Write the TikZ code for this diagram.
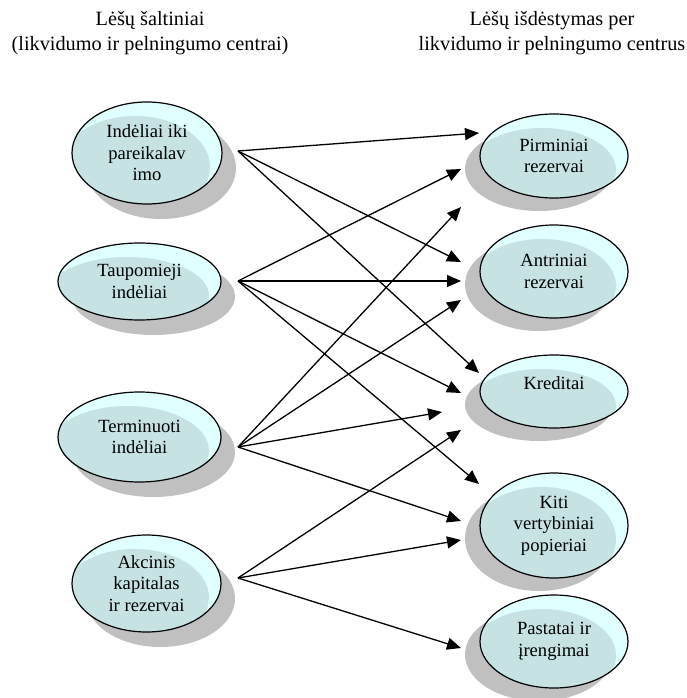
\documentclass[tikz,border=0pt]{standalone}
\usepackage{fontspec}
\setmainfont{Liberation Serif}
\usetikzlibrary{shapes.geometric,arrows.meta,calc}

\definecolor{capfill}{RGB}{224,255,255}
\definecolor{capshade}{RGB}{198,226,227}
\definecolor{capshadow}{RGB}{192,192,192}

\tikzset{
  fund/.style={
    ellipse, draw=black, line width=1.2pt, fill=capfill,
    inner sep=0pt, align=center,
    font=\fontsize{18.6}{21.5}\selectfont,
    % darker lower-left body of the two-tone fill
    path picture={
      \fill[capshade]
        let \p1=(path picture bounding box.south west),
            \p2=(path picture bounding box.north east)
        in (\x1/2+\x2/2-12pt, \y1/2+\y2/2-14pt)
           ellipse [x radius={(\x2-\x1)/2}, y radius={(\y2-\y1)/2}];
    }
  },
  srcbox/.style={fund,
    preaction={fill=capshadow, transform canvas={shift={(14pt,-15pt)}}}},
  usebox/.style={fund,
    preaction={fill=capshadow, transform canvas={shift={(-15pt,-13pt)}}}},
  header/.style={align=center, font=\fontsize{20.3}{24.5}\selectfont},
  flow/.style={line width=1.3pt, -{Triangle[length=14pt,width=12pt]}}
}

\begin{document}
\begin{tikzpicture}[x=1pt, y=-1pt]
  \useasboundingbox (0,0) rectangle (686,698);

  % column headings
  \node[header] (hsrc) at (150,33) {Lėšų šaltiniai\\(likvidumo ir pelningumo centrai)};
  \node[header] (huse) at (552,33) {Lėšų išdėstymas per\\likvidumo ir pelningumo centrus};

  % sources of funds
  \node[srcbox, minimum width=150pt, minimum height=102pt] (L1) at (147,153)
    {Indėliai iki\\pareikalav\\imo};
  \node[srcbox, minimum width=163pt, minimum height=77pt] (L2) at (139.5,281.5)
    {Taupomieji\\indėliai};
  \node[srcbox, minimum width=163pt, minimum height=90pt] (L3) at (139.5,437)
    {Terminuoti\\indėliai};
  \node[srcbox, minimum width=149pt, minimum height=97pt] (L4) at (146.5,583.5)
    {Akcinis\\kapitalas\\ir rezervai};

  % uses of funds
  \node[usebox, minimum width=148pt, minimum height=84pt] (R1) at (554,156)
    {Pirminiai\\rezervai};
  \node[usebox, minimum width=148pt, minimum height=93pt] (R2) at (554,271.5)
    {Antriniai\\rezervai};
  \node[usebox, minimum width=148pt, minimum height=73pt,
        label={[name=R3t, font=\fontsize{18.6}{21.5}\selectfont, yshift=8pt]center:Kreditai}]
    (R3) at (554,391.5) {};
  \node[usebox, minimum width=148pt, minimum height=105pt] (R4) at (554,525.5)
    {Kiti\\vertybiniai\\popieriai};
  \node[usebox, minimum width=148pt, minimum height=93pt] (R5) at (554,641.5)
    {Pastatai ir\\įrengimai};

  % fan-out points beside the sources
  \coordinate (s1) at (238,151);
  \coordinate (s2) at (238,281);
  \coordinate (s3) at (238,447);
  \coordinate (s4) at (238,578);

  % arrow tips in front of the uses
  \coordinate (a1) at (479,133);
  \coordinate (a2) at (461,262);
  \coordinate (a3) at (479,373);
  \coordinate (b1) at (461,169);
  \coordinate (b2) at (461,281);
  \coordinate (b3) at (461,393);
  \coordinate (b4) at (479,484);
  \coordinate (c1) at (461,207);
  \coordinate (c2) at (461,300);
  \coordinate (c3) at (442,412);
  \coordinate (c4) at (461,521);
  \coordinate (d1) at (461,430);
  \coordinate (d2) at (461,540);
  \coordinate (d3) at (461,648);

  \draw[flow] (s1) -- (a1);
  \draw[flow] (s1) -- (a2);
  \draw[flow] (s1) -- (a3);
  \draw[flow] (s2) -- (b1);
  \draw[flow] (s2) -- (b2);
  \draw[flow] (s2) -- (b3);
  \draw[flow] (s2) -- (b4);
  \draw[flow] (s3) -- (c1);
  \draw[flow] (s3) -- (c2);
  \draw[flow] (s3) -- (c3);
  \draw[flow] (s3) -- (c4);
  \draw[flow] (s4) -- (d1);
  \draw[flow] (s4) -- (d2);
  \draw[flow] (s4) -- (d3);
\end{tikzpicture}
\end{document}
